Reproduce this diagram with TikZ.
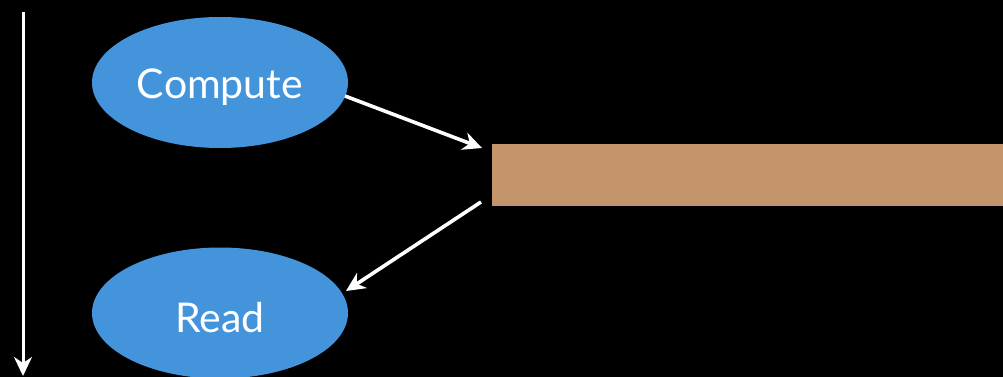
\documentclass[tikz,border=0pt]{standalone}
\usepackage{fontspec}
\setmainfont{Lato}
\usetikzlibrary{arrows.meta,shapes.geometric}
\definecolor{taskblue}{HTML}{4494DC}
\definecolor{buffertan}{HTML}{C4956A}
\begin{document}
\begin{tikzpicture}[x=1pt,y=-1pt,
  task/.style={ellipse,fill=taskblue,minimum width=256pt,minimum height=131pt,inner sep=0pt},
  tasktext/.style={text=white,font=\fontsize{41}{48}\selectfont,yshift=-4.5pt},
  flow/.style={white,line width=3.6pt,-{Stealth[length=19pt,width=18pt,inset=6pt]}}]
  % black canvas
  \fill[black] (0,0) rectangle (1003,377);
  \useasboundingbox (0,0) rectangle (1003,377);
  % time axis
  \coordinate (ttop) at (23,12);
  \coordinate (tbot) at (23,376);
  \draw[flow,line width=3pt] (ttop) -- (tbot);
  % tasks and shared buffer
  \node[task,label={[tasktext]center:Compute}] (compute) at (220,82.5) {};
  \node[task,label={[tasktext]center:Read}] (read) at (220,313) {};
  \node[fill=buffertan,minimum width=511pt,minimum height=62pt,inner sep=0pt,anchor=north west] (buffer) at (492,144) {};
  % data flow
  \coordinate (cout) at (345,96);
  \coordinate (bin) at (482,148);
  \coordinate (bout) at (481,202);
  \coordinate (rin) at (346,291);
  \draw[flow] (cout) -- (bin);
  \draw[flow] (bout) -- (rin);
\end{tikzpicture}
\end{document}
